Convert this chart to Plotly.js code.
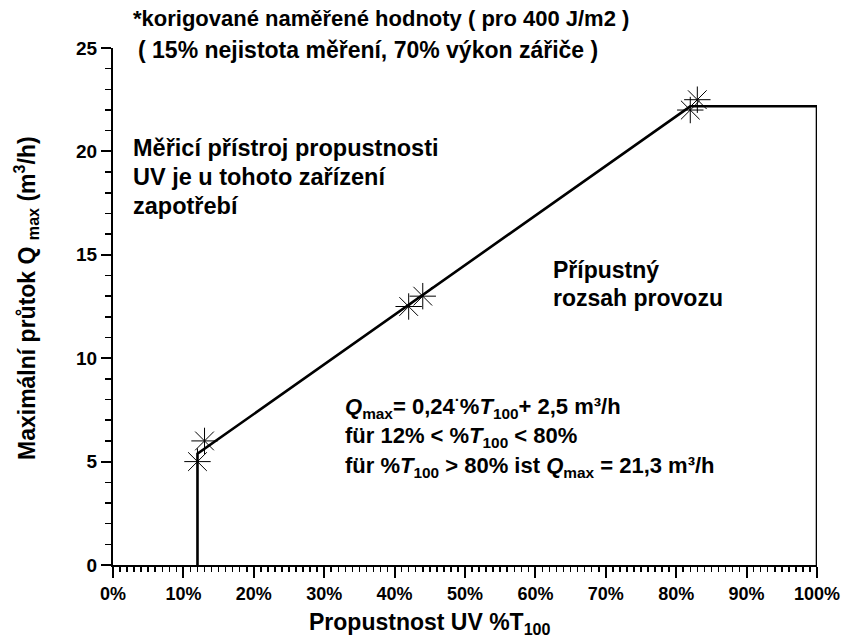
<!DOCTYPE html>
<html>
<head>
<meta charset="utf-8">
<script src="https://cdn.plot.ly/plotly-3.0.1.min.js"></script>
<style>html,body{margin:0;padding:0;background:#fff;}#chart{width:843px;height:641px;}</style>
</head>
<body>
<div id="chart"></div>
<script>
// Measured (corrected) points
const measX = [12, 13, 42, 44, 82, 83];
const measY = [5, 6, 12.5, 13, 22, 22.5];
// Limit curve of the permissible operating range
const limitX = [12, 12, 82, 100, 100];
const limitY = [0, 5.38, 22.18, 22.18, 0];
// Axis ticks
const xTickVals = [0, 10, 20, 30, 40, 50, 60, 70, 80, 90, 100];
const xTickText = ['0%', '10%', '20%', '30%', '40%', '50%', '60%', '70%', '80%', '90%', '100%'];
const yTickVals = [0, 5, 10, 15, 20, 25];

const FONT = 'Arial, "Liberation Sans", sans-serif';
const px = (v) => (v - 113) / 704;
const py = (v) => (565 - v) / 517;

const traces = [
  {x: limitX, y: limitY, mode: 'lines', type: 'scatter',
   line: {color: '#000', width: 2.6}, hoverinfo: 'skip', cliponaxis: false},
  {x: measX, y: measY, mode: 'markers', type: 'scatter',
   marker: {symbol: 'asterisk-open', size: 22, color: '#000', line: {color: '#000', width: 1}},
   cliponaxis: false}
];

function ann(text, x, y, size, extra) {
  return Object.assign({text: text, xref: 'paper', yref: 'paper', x: px(x), y: py(y),
          xanchor: 'left', yanchor: 'middle', showarrow: false, align: 'left',
          font: {family: FONT, size: size, color: '#000', weight: 'bold'}}, extra || {});
}

const layout = {
  width: 843, height: 641,
  margin: {l: 113, r: 26, t: 48, b: 76},
  paper_bgcolor: '#fff', plot_bgcolor: '#fff',
  showlegend: false,
  font: {family: FONT, color: '#000'},
  xaxis: {
    range: [0, 100], tickvals: xTickVals, ticktext: xTickText,
    ticks: 'outside', ticklen: 11, tickwidth: 2, tickcolor: '#000',
    minor: {dtick: 1, ticks: 'outside', ticklen: 5, tickwidth: 1.5, tickcolor: '#000'},
    showline: true, linewidth: 2, linecolor: '#000', showgrid: false, zeroline: false,
    tickfont: {family: FONT, size: 18, weight: 'bold'}
  },
  yaxis: {
    range: [0, 25], tickvals: yTickVals,
    ticks: 'outside', ticklen: 10, tickwidth: 2, tickcolor: '#000',
    minor: {dtick: 1, ticks: 'outside', ticklen: 6, tickwidth: 1.5, tickcolor: '#000'},
    showline: true, linewidth: 2, linecolor: '#000', showgrid: false, zeroline: false,
    tickfont: {family: FONT, size: 19, weight: 'bold'}
  },
  annotations: [
    ann('Propustnost UV %T<sub>100</sub>', 430, 623, 23, {xanchor: 'center'}),
    ann('Maximální průtok Q <sub>max</sub> (m<sup>3</sup>/h)', 26, 298, 23, {xanchor: 'center', textangle: -90}),
    ann('*korigované naměřené hodnoty ( pro 400 J/m2 )', 131, 19, 22),
    ann('( 15% nejistota měření, 70% výkon zářiče )', 136, 50, 23),
    ann('Měřicí přístroj propustnosti', 131, 148, 23.5),
    ann('UV je u tohoto zařízení', 131, 177, 23.5),
    ann('zapotřebí', 131, 206, 23.5),
    ann('Přípustný', 551, 270, 23),
    ann('rozsah provozu', 551, 298, 23),
    ann('<i>Q</i><sub>max</sub>= 0,24<sup>·</sup>%<i>T</i><sub>100</sub>+ 2,5 m³/h', 343, 406, 22),
    ann('für 12% &lt; %<i>T</i><sub>100</sub> &lt; 80%', 343, 437, 22),
    ann('für %<i>T</i><sub>100</sub> &gt; 80% ist <i>Q</i><sub>max</sub> = 21,3 m³/h', 343, 467, 22)
  ]
};

Plotly.newPlot('chart', traces, layout, {staticPlot: true, displayModeBar: false});
</script>
</body>
</html>
